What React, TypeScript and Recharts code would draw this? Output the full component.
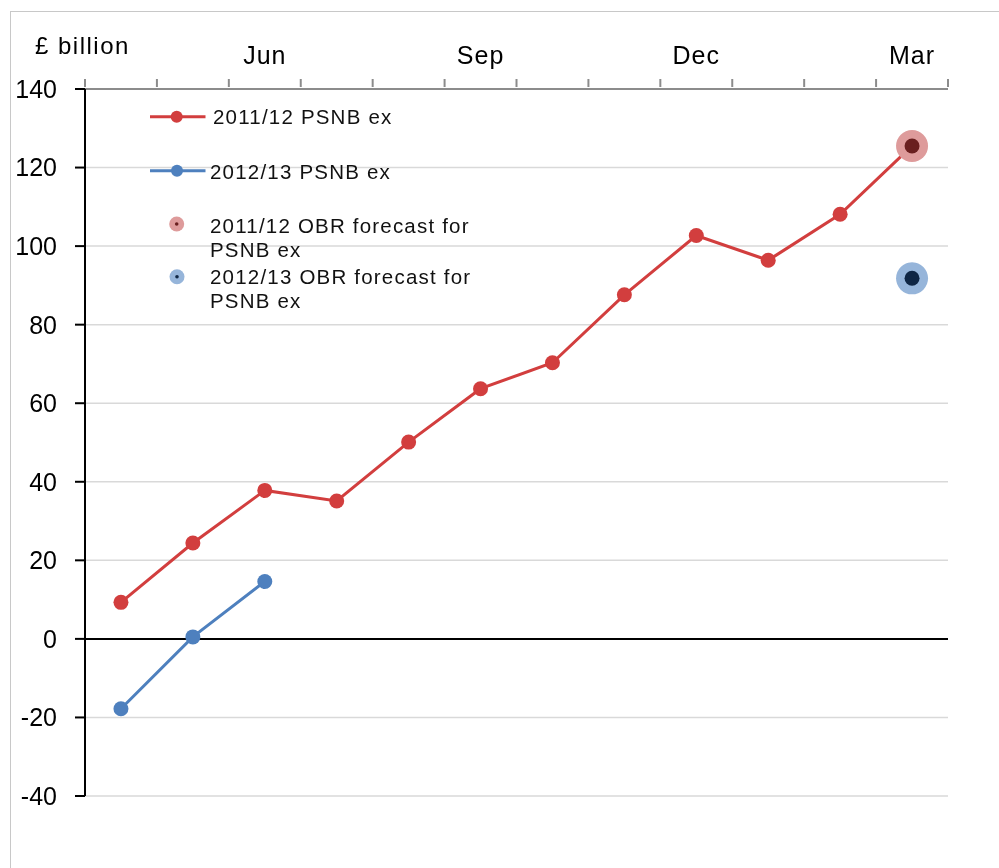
import React from 'react';
import { ComposedChart, Line, XAxis, YAxis, CartesianGrid, ReferenceLine } from 'recharts';

const months = ['Apr', 'May', 'Jun', 'Jul', 'Aug', 'Sep', 'Oct', 'Nov', 'Dec', 'Jan', 'Feb', 'Mar'];
const labelledMonths = ['Jun', 'Sep', 'Dec', 'Mar'];
const psnb1112 = [9.3, 24.4, 37.8, 35.1, 50.1, 63.7, 70.3, 87.6, 102.7, 96.4, 108.1, 125.5];
const psnb1213 = [-17.8, 0.5, 14.6, null, null, null, null, null, null, null, null, null];
const obr1112 = [null, null, null, null, null, null, null, null, null, null, null, 125.5];
const obr1213 = [null, null, null, null, null, null, null, null, null, null, null, 91.8];
const yTicks = [-40, -20, 0, 20, 40, 60, 80, 100, 120, 140];
const legendNames = ['2011/12 PSNB ex', '2012/13 PSNB ex', '2011/12 OBR forecast for', '2012/13 OBR forecast for', 'PSNB ex'];

const RED = '#D23E3E';
const BLUE = '#4E80BE';
const RED_OUT = '#DE9B9B';
const RED_IN = '#6A1F1F';
const BLUE_OUT = '#96B5DA';
const BLUE_IN = '#0F2644';
const FONT = '"Liberation Sans", Arial, sans-serif';

const data = months.map((m, i) => ({
  idx: i,
  month: m,
  a: psnb1112[i],
  b: psnb1213[i],
  fa: obr1112[i],
  fb: obr1213[i],
}));

const boundaryTicks = months.map((_, i) => i - 0.5).concat([months.length - 0.5]);
const labelTicks = months.map((m, i) => (labelledMonths.includes(m) ? i : null)).filter((v) => v !== null) as number[];
const xTicks = [...boundaryTicks, ...labelTicks].sort((p, q) => p - q);

const XTick = (props: any) => {
  const { x, y, payload } = props;
  const v = payload.value;
  if (!Number.isInteger(v)) {
    return <line x1={x} x2={x} y1={y} y2={y - 8} stroke="#8c8c8c" strokeWidth={2} />;
  }
  return (
    <text x={x} y={y - 23.5} textAnchor="middle" fill="#000" fontSize={25} fontFamily={FONT} letterSpacing={1}>
      {months[v]}
    </text>
  );
};

const forecastDot = (outer: string, inner: string) => (props: any) => {
  const { cx, cy, index, value } = props;
  if (cx == null || cy == null || value == null) return <g key={`n${index}`} />;
  return (
    <g key={`f${index}`}>
      <circle cx={cx} cy={cy} r={16} fill={outer} />
      <circle cx={cx} cy={cy} r={7.5} fill={inner} />
    </g>
  );
};

export default function App() {
  return (
    <div style={{ position: 'relative', width: 983, height: 852, overflow: 'hidden' }}>
      <div
        style={{
          position: 'fixed',
          left: 10,
          top: 11,
          right: -5,
          bottom: -5,
          borderLeft: '1px solid #c8c8c8',
          borderTop: '1px solid #c8c8c8',
          pointerEvents: 'none',
        }}
      />
      <ComposedChart width={983} height={852} data={data} margin={{ top: 41, right: 43, bottom: 64, left: 17 }}>
        <CartesianGrid horizontal vertical={false} stroke="#d9d9d9" strokeWidth={1.5} />
        <XAxis
          xAxisId={0}
          dataKey="idx"
          type="number"
          orientation="top"
          domain={[-0.5, 11.5]}
          ticks={xTicks}
          interval={0}
          tickSize={0}
          tickLine={false}
          axisLine={{ stroke: '#8c8c8c', strokeWidth: 2 }}
          height={40}
          tick={<XTick />}
        />
        <YAxis
          type="number"
          domain={[-40, 140]}
          ticks={yTicks}
          interval={0}
          width={60}
          tickSize={10}
          tickMargin={18}
          axisLine={{ stroke: '#000', strokeWidth: 2 }}
          tickLine={{ stroke: '#000', strokeWidth: 2 }}
          tick={{ fill: '#000', fontSize: 25, fontFamily: FONT }}
        />
        <ReferenceLine y={0} stroke="#000" strokeWidth={2} />
        <Line
          dataKey="a"
          name={legendNames[0]}
          stroke={RED}
          strokeWidth={3}
          dot={{ r: 7.5, fill: RED, stroke: RED, strokeWidth: 0 }}
          activeDot={false}
          isAnimationActive={false}
        />
        <Line
          dataKey="b"
          name={legendNames[1]}
          stroke={BLUE}
          strokeWidth={3}
          dot={{ r: 7.5, fill: BLUE, stroke: BLUE, strokeWidth: 0 }}
          activeDot={false}
          isAnimationActive={false}
        />
        <Line
          dataKey="fa"
          name={legendNames[2]}
          stroke="none"
          dot={forecastDot(RED_OUT, RED_IN)}
          activeDot={false}
          isAnimationActive={false}
        />
        <Line
          dataKey="fb"
          name={legendNames[3]}
          stroke="none"
          dot={forecastDot(BLUE_OUT, BLUE_IN)}
          activeDot={false}
          isAnimationActive={false}
        />
      </ComposedChart>
      <div
        style={{
          position: 'absolute',
          left: 27,
          top: 25.5,
          fontFamily: FONT,
          fontSize: 24,
          lineHeight: '24px',
          letterSpacing: 1.5,
          color: '#000',
          whiteSpace: 'nowrap',
        }}
      >
        £ billion
      </div>
      <svg
        width={983}
        height={852}
        style={{ position: 'absolute', left: 0, top: 0, pointerEvents: 'none' }}
      >
        <g fontFamily={FONT} fontSize={20.5} fill="#111" letterSpacing={1.2}>
          <line x1={142} x2={197.5} y1={108.7} y2={108.7} stroke={RED} strokeWidth={3} />
          <circle cx={168.7} cy={108.7} r={6} fill={RED} />
          <text x={205} y={115.5}>{legendNames[0]}</text>

          <line x1={142} x2={197.5} y1={162.7} y2={162.7} stroke={BLUE} strokeWidth={3} />
          <circle cx={169} cy={162.7} r={6} fill={BLUE} />
          <text x={202} y={170.5}>{legendNames[1]}</text>

          <circle cx={168.7} cy={216} r={7.5} fill={RED_OUT} />
          <circle cx={168.7} cy={216} r={1.8} fill={RED_IN} />
          <text x={202} y={225}>{legendNames[2]}</text>
          <text x={202} y={249}>{legendNames[4]}</text>

          <circle cx={169} cy={268.7} r={7.5} fill={BLUE_OUT} />
          <circle cx={169} cy={268.7} r={1.8} fill={BLUE_IN} />
          <text x={202} y={275.5}>{legendNames[3]}</text>
          <text x={202} y={300}>{legendNames[4]}</text>
        </g>
      </svg>
    </div>
  );
}
